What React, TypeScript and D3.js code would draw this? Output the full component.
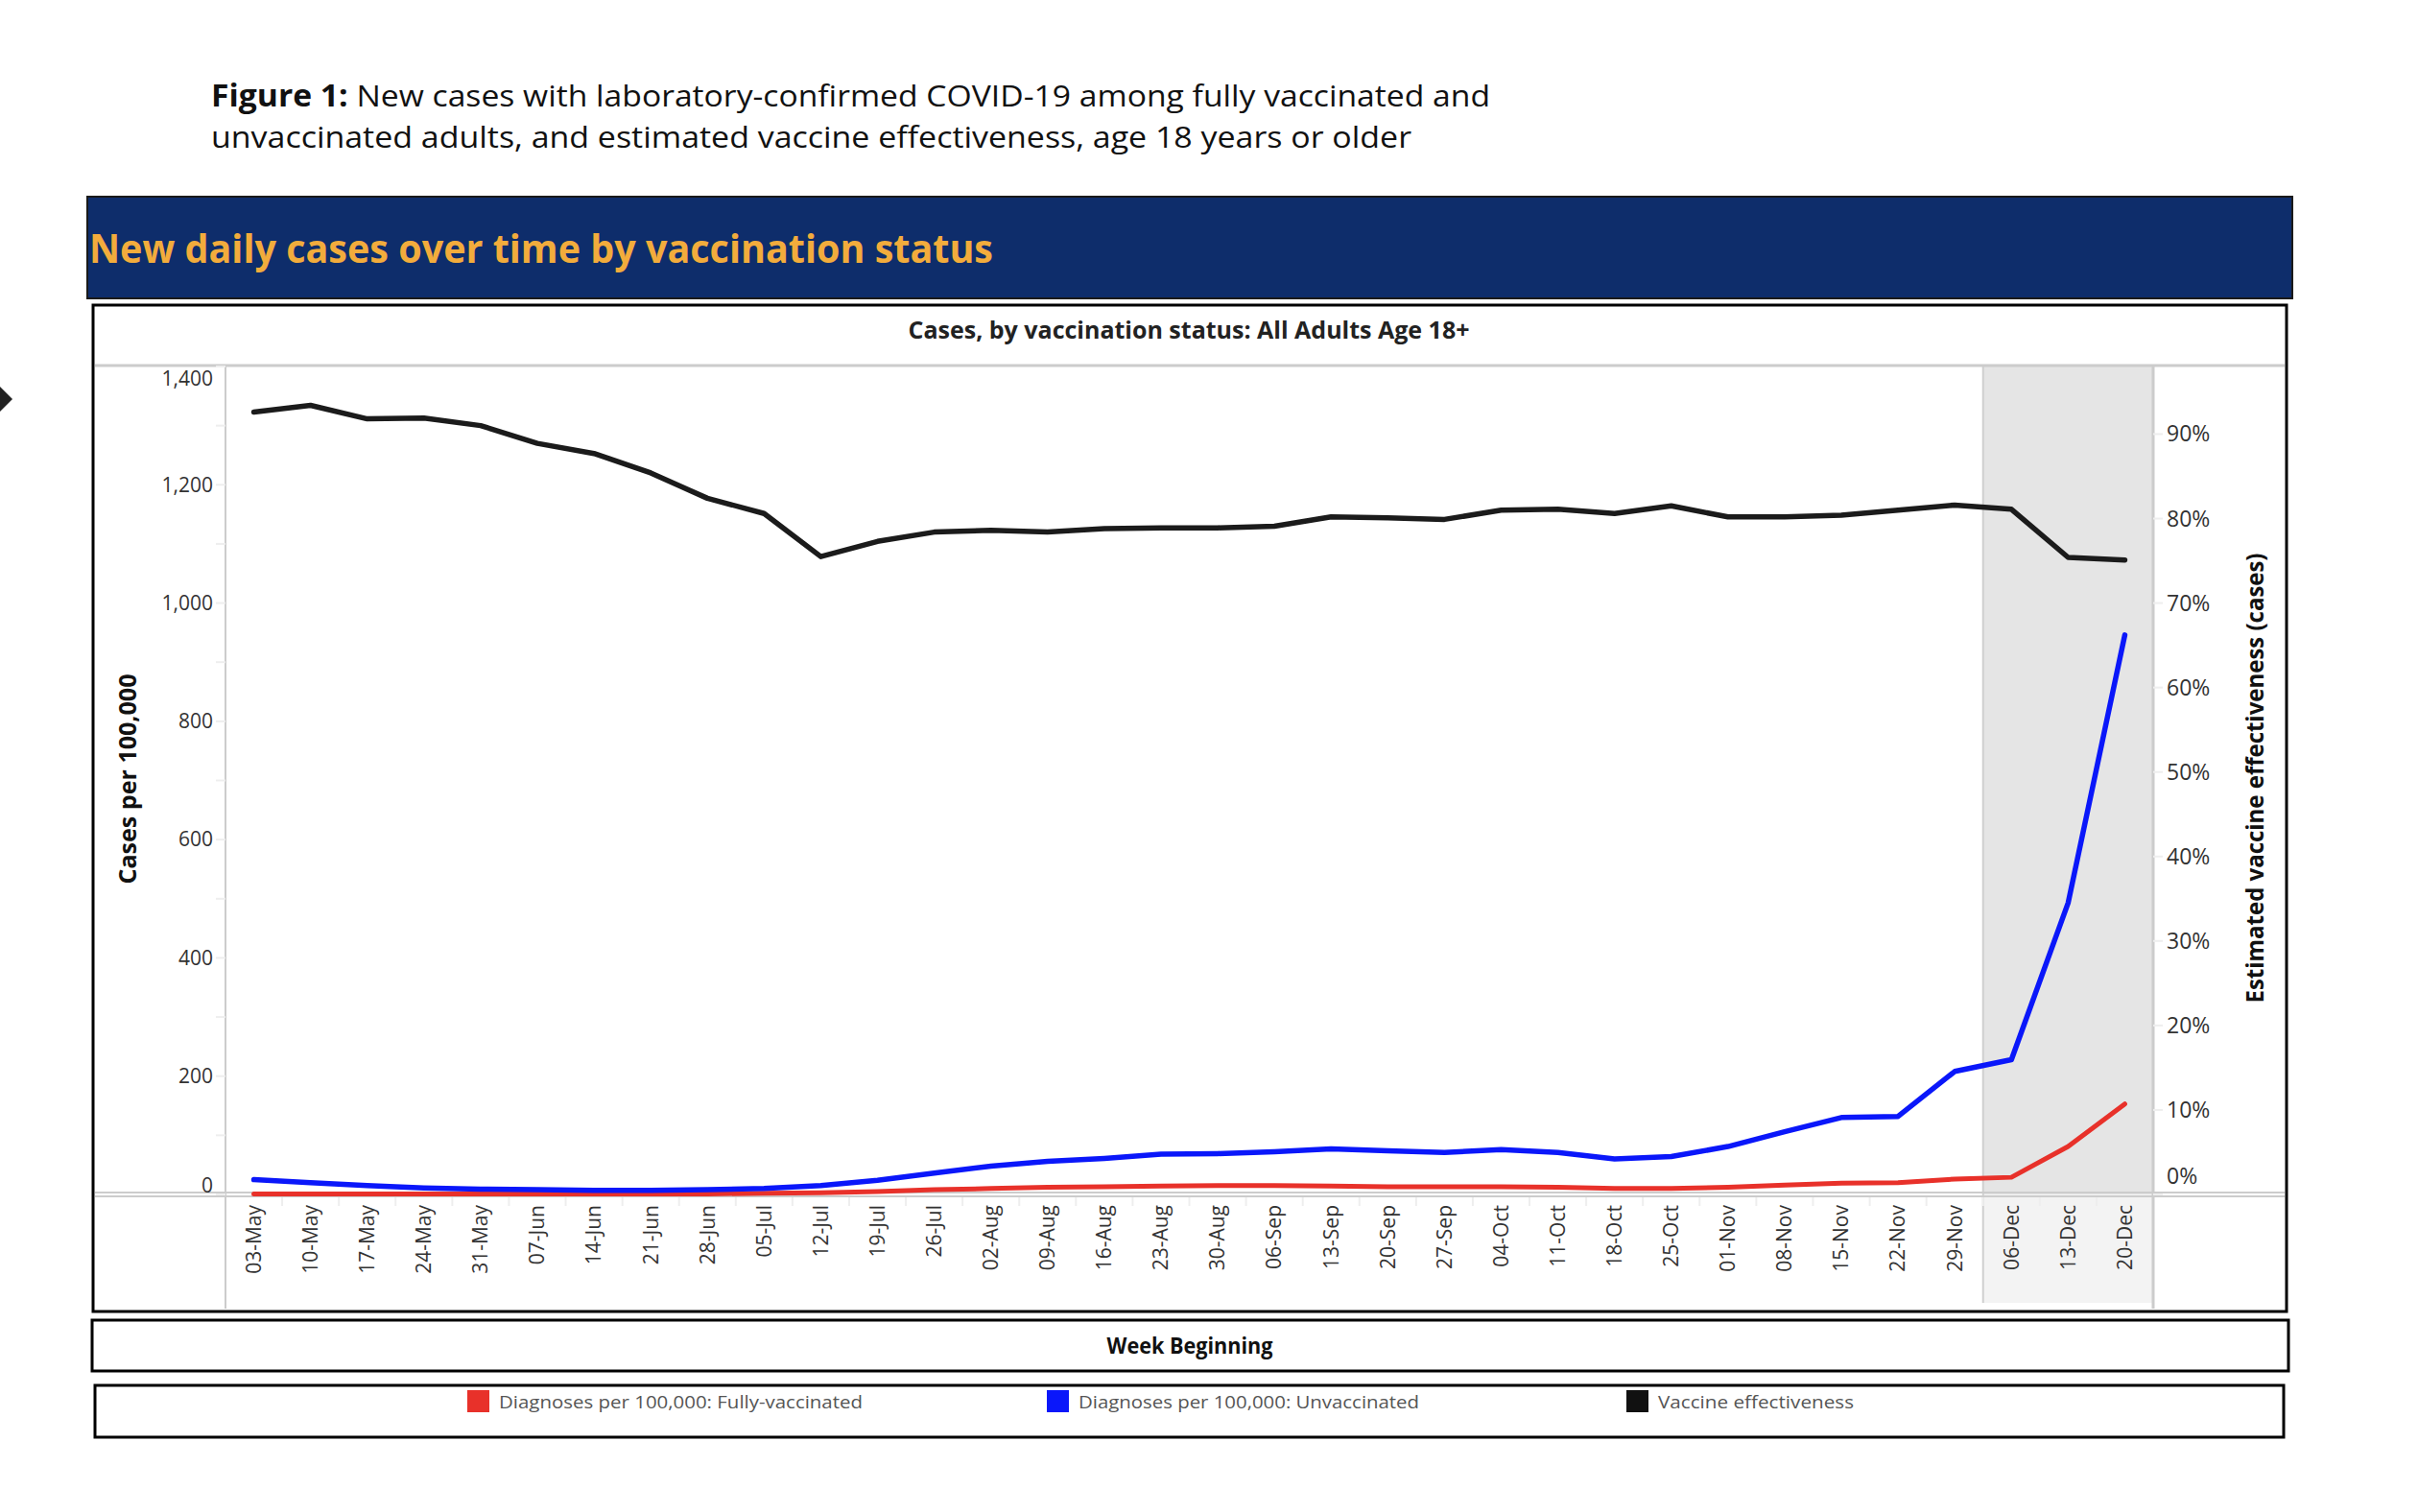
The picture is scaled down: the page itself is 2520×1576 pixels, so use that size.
import React from "react";
import * as d3 from "d3";

const weeks = ["03-May","10-May","17-May","24-May","31-May","07-Jun","14-Jun","21-Jun","28-Jun","05-Jul","12-Jul","19-Jul","26-Jul","02-Aug","09-Aug","16-Aug","23-Aug","30-Aug","06-Sep","13-Sep","20-Sep","27-Sep","04-Oct","11-Oct","18-Oct","25-Oct","01-Nov","08-Nov","15-Nov","22-Nov","29-Nov","06-Dec","13-Dec","20-Dec"];
const vaccineEffectiveness = [92.6, 93.4, 91.8, 91.9, 91.0, 88.9, 87.7, 85.4, 82.4, 80.6, 75.5, 77.3, 78.4, 78.6, 78.4, 78.8, 78.9, 78.9, 79.1, 80.2, 80.1, 79.9, 81.0, 81.1, 80.6, 81.5, 80.2, 80.2, 80.4, 81.0, 81.6, 81.1, 75.4, 75.1];
const unvaccinated = [25, 20, 15, 11, 9, 8, 7, 7, 8, 10, 15, 24, 36, 48, 56, 61, 68, 69, 72, 77, 74, 71, 76, 71, 60, 64, 81, 106, 130, 132, 208, 228, 493, 946];
const fullyVaccinated = [1, 1, 1, 1, 1, 1, 1, 1, 1, 2, 3, 5, 8, 10, 12, 13, 14, 15, 15, 14, 13, 13, 13, 12, 10, 10, 12, 16, 19, 20, 26, 29, 81, 153];
const leftTicks = [0, 200, 400, 600, 800, 1000, 1200, 1400];
const rightTicks = [0, 10, 20, 30, 40, 50, 60, 70, 80, 90];
const shadedWeeks = ["06-Dec", "13-Dec", "20-Dec"];
const legendItems = [
  { label: "Diagnoses per 100,000: Fully-vaccinated", color: "#E8312A" },
  { label: "Diagnoses per 100,000: Unvaccinated", color: "#0A17FA" },
  { label: "Vaccine effectiveness", color: "#111111" },
];

const W = 2520, H = 1576;
const PL = 235, PR = 2244, PT = 382, PB = 1245;
const SANS = "'Open Sans', sans-serif";

export default function App() {
  const x = d3.scalePoint<string>().domain(weeks).range([PL, PR]).padding(0.5);
  const step = x.step();
  const yL = d3.scaleLinear().domain([0, 1400]).range([PB, PT]);
  const yR = d3.scaleLinear().domain([0, 98]).range([PB, PT]);

  const lineL = d3.line<number>().x((_, i) => x(weeks[i])!).y((d) => yL(d));
  const lineR = d3.line<number>().x((_, i) => x(weeks[i])!).y((d) => yR(d));

  const shadeX0 = x(shadedWeeks[0])! - step / 2;
  const shadeX1 = x(shadedWeeks[shadedWeeks.length - 1])! + step / 2;

  const minorL = d3.range(100, 1400, 200);
  const legendX = [487, 1091, 1695];

  return (
    <svg width={W} height={H} style={{ position: "absolute", left: 0, top: 0, background: "#fff" }} fontFamily={SANS}>
      <rect x={0} y={0} width={W} height={H} fill="#fff" />
      {/* diamond marker at left edge */}
      <polygon points="-1,402 13,416 -1,430 -15,416" fill="#222" />

      {/* Figure title */}
      <text x={220} y={111} fontSize={31.5} fill="#111" textLength={1333} lengthAdjust="spacingAndGlyphs">
        <tspan fontWeight="bold">Figure 1:</tspan>
        <tspan> New cases with laboratory-confirmed COVID-19 among fully vaccinated and</tspan>
      </text>
      <text x={220} y={154} fontSize={31.5} fill="#111" textLength={1251} lengthAdjust="spacingAndGlyphs">
        unvaccinated adults, and estimated vaccine effectiveness, age 18 years or older
      </text>

      {/* Banner */}
      <rect x={91} y={205} width={2298} height={106} fill="#0E2D6B" stroke="#1a1a1a" strokeWidth={2} />
      <text x={93} y={274} fontSize={42} fontWeight="bold" fill="#F2AC3C" textLength={942} lengthAdjust="spacingAndGlyphs">
        New daily cases over time by vaccination status
      </text>

      {/* Chart box */}
      <rect x={97} y={318} width={2286} height={1049} fill="#fff" stroke="#000" strokeWidth={3} />
      <text x={1239} y={353} fontSize={24.5} fontWeight="bold" fill="#222" textAnchor="middle" textLength={585} lengthAdjust="spacingAndGlyphs">
        Cases, by vaccination status: All Adults Age 18+
      </text>

      {/* shaded region */}
      <rect x={shadeX0} y={PT} width={shadeX1 - shadeX0} height={PB - PT} fill="#E5E5E5" />
      <rect x={shadeX0} y={PB} width={shadeX1 - shadeX0} height={1358 - PB} fill="#F3F3F3" />
      <line x1={shadeX0} x2={shadeX0} y1={PT} y2={1358} stroke="#cfcfcf" strokeWidth={2} />

      {/* top divider */}
      <line x1={99} x2={2381} y1={381} y2={381} stroke="#cccccc" strokeWidth={3} />

      {/* axes lines */}
      <line x1={PL} x2={PL} y1={PT} y2={1364} stroke="#cccccc" strokeWidth={2} />
      <line x1={PR} x2={PR} y1={PT} y2={1364} stroke="#cccccc" strokeWidth={3} />
      <line x1={99} x2={2381} y1={1243} y2={1243} stroke="#cccccc" strokeWidth={2} />
      <line x1={99} x2={2381} y1={1247} y2={1247} stroke="#cccccc" strokeWidth={2} />

      {/* minor/major ticks left */}
      {minorL.map((v) => (
        <line key={"ml" + v} x1={PL - 10} x2={PL} y1={yL(v)} y2={yL(v)} stroke="#eeeeee" strokeWidth={2} />
      ))}
      {leftTicks.map((v) => (
        <line key={"tl" + v} x1={PL - 10} x2={PL} y1={yL(v)} y2={yL(v)} stroke="#eeeeee" strokeWidth={2} />
      ))}
      {rightTicks.map((v) => (
        <line key={"tr" + v} x1={PR} x2={PR + 10} y1={yR(v)} y2={yR(v)} stroke="#eeeeee" strokeWidth={2} />
      ))}

      {/* x band separators */}
      {weeks.slice(1).map((w) => (
        <line key={"sep" + w} x1={x(w)! - step / 2} x2={x(w)! - step / 2} y1={1248} y2={1257} stroke="#eeeeee" strokeWidth={2} />
      ))}

      {/* left tick labels */}
      {leftTicks.map((v) => {
        let yy = yL(v);
        if (v === 1400) yy += 13;
        if (v === 0) yy -= 9;
        return (
          <text key={"ll" + v} x={222} y={yy} dy="0.35em" fontSize={21} fill="#333" textAnchor="end">
            {d3.format(",")(v)}
          </text>
        );
      })}
      {/* right tick labels */}
      {rightTicks.map((v) => {
        let yy = yR(v);
        if (v === 0) yy -= 19;
        return (
          <text key={"rl" + v} x={2258} y={yy} dy="0.35em" fontSize={23} fill="#333">
            {v + "%"}
          </text>
        );
      })}

      {/* x tick labels */}
      {weeks.map((w) => (
        <text key={"xl" + w} transform={`translate(${x(w)},1256) rotate(-90)`} dy="0.35em" fontSize={21} fill="#333" textAnchor="end">
          {w}
        </text>
      ))}

      {/* axis titles */}
      <text transform="translate(133,812) rotate(-90)" dy="0.35em" fontSize={25} fontWeight="bold" fill="#111" textAnchor="middle" textLength={219} lengthAdjust="spacingAndGlyphs">
        Cases per 100,000
      </text>
      <text transform="translate(2350,811) rotate(-90)" dy="0.35em" fontSize={25} fontWeight="bold" fill="#111" textAnchor="middle" textLength={469} lengthAdjust="spacingAndGlyphs">
        Estimated vaccine effectiveness (cases)
      </text>

      {/* lines */}
      <path d={lineL(fullyVaccinated)!} fill="none" stroke="#E8312A" strokeWidth={5} strokeLinejoin="round" strokeLinecap="round" />
      <path d={lineL(unvaccinated)!} fill="none" stroke="#0A17FA" strokeWidth={5.5} strokeLinejoin="round" strokeLinecap="round" />
      <path d={lineR(vaccineEffectiveness)!} fill="none" stroke="#1B1B1B" strokeWidth={5.5} strokeLinejoin="round" strokeLinecap="round" />

      {/* Week Beginning box */}
      <rect x={96} y={1376} width={2289} height={53} fill="#fff" stroke="#000" strokeWidth={3} />
      <text x={1240} y={1403} dy="0.35em" fontSize={24} fontWeight="bold" fill="#111" textAnchor="middle" textLength={173} lengthAdjust="spacingAndGlyphs">
        Week Beginning
      </text>

      {/* Legend box */}
      <rect x={99} y={1444} width={2281} height={54} fill="#fff" stroke="#000" strokeWidth={3} />
      {legendItems.map((it, i) => (
        <g key={it.label}>
          <rect x={legendX[i]} y={1449} width={23} height={23} fill={it.color} />
          <text x={legendX[i] + 33} y={1468} fontSize={18.5} fill="#555" textLength={[379, 355, 204][i]} lengthAdjust="spacingAndGlyphs">
            {it.label}
          </text>
        </g>
      ))}
    </svg>
  );
}
